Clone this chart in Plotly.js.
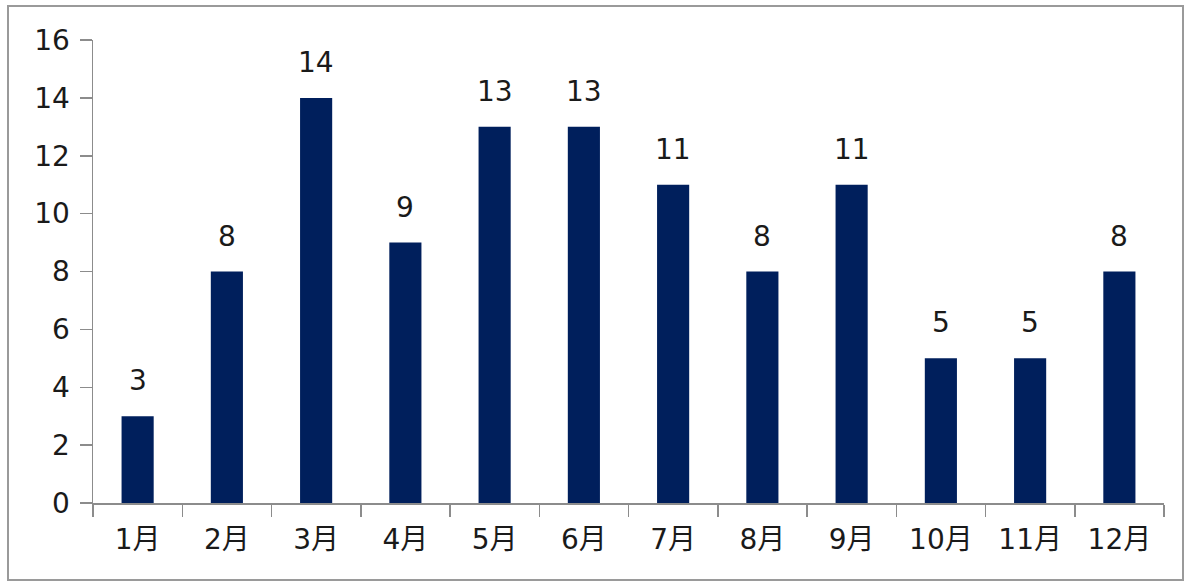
<!DOCTYPE html>
<html>
<head>
<meta charset="utf-8">
<script src="https://cdn.plot.ly/plotly-3.0.1.min.js"></script>
<style>
  html, body { margin: 0; padding: 0; background: #ffffff; }
  #frame { position: absolute; left: 7px; top: 5px; width: 1173px; height: 572px; border: 2px solid #9a9a9a; background: #fff; }
  #chart { width: 1173px; height: 572px; }
</style>
</head>
<body>
<div id="frame"><div id="chart"></div></div>
<script>
const months = ['1月','2月','3月','4月','5月','6月','7月','8月','9月','10月','11月','12月'];
const counts = [3, 8, 14, 9, 13, 13, 11, 8, 11, 5, 5, 8];
const yTicks = [0, 2, 4, 6, 8, 10, 12, 14, 16];

const fontFamily = 'DejaVu Sans, Noto Sans CJK JP, sans-serif';
const axisColor = '#8c8c8c';
const fs = 28;

const trace = {
  type: 'bar',
  x: months,
  y: counts,
  marker: { color: '#001f5c', line: { width: 0 } },
  width: 0.36,
  hoverinfo: 'skip'
};

const annotations = months.map((m, i) => ({
  x: m, y: counts[i], xref: 'x', yref: 'y',
  text: String(counts[i]), showarrow: false,
  yanchor: 'bottom', yshift: 17,
  font: { family: fontFamily, size: fs, color: '#1a1a1a' }
}));

const layout = {
  width: 1173, height: 572,
  margin: { l: 84, r: 18, t: 33, b: 76 },
  paper_bgcolor: '#ffffff', plot_bgcolor: '#ffffff',
  showlegend: false,
  font: { family: fontFamily, size: fs, color: '#1a1a1a' },
  xaxis: {
    type: 'category',
    showline: true, linecolor: axisColor, linewidth: 1.5,
    ticks: 'outside', tickson: 'boundaries', ticklen: 12, tickcolor: axisColor, tickwidth: 1.5,
    ticklabelstandoff: 11,
    showgrid: false, zeroline: false,
    tickfont: { family: fontFamily, size: fs, color: '#1a1a1a' }
  },
  yaxis: {
    range: [0, 16], tickvals: yTicks, ticktext: yTicks.map(String),
    showline: true, linecolor: axisColor, linewidth: 1.5,
    ticks: 'outside', ticklen: 12, tickcolor: axisColor, tickwidth: 1.5,
    ticklabelstandoff: 4,
    showgrid: false, zeroline: false,
    tickfont: { family: fontFamily, size: fs, color: '#1a1a1a' }
  },
  annotations: annotations
};

Plotly.newPlot('chart', [trace], layout, { displayModeBar: false, staticPlot: true });
</script>
</body>
</html>
